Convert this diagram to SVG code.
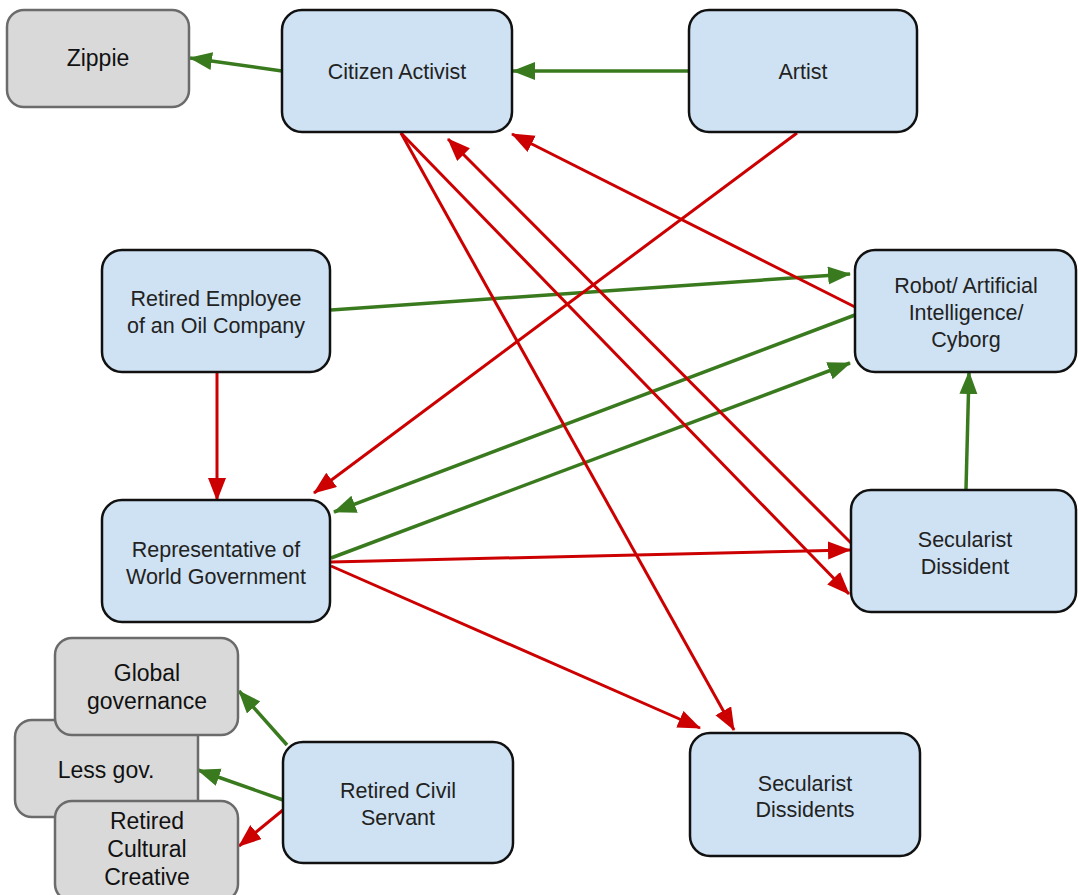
<svg xmlns="http://www.w3.org/2000/svg" width="1078" height="895" viewBox="0 0 1078 895">
<defs>
<style>
.blue{fill:#cfe2f3;stroke:#111;stroke-width:2.5}
.grey{fill:#d9d9d9;stroke:#6b6b6b;stroke-width:2.5}
.t{font-family:"Liberation Sans",Arial,sans-serif;font-size:21.5px;fill:#222;text-anchor:middle}
.tg{font-family:"Liberation Sans",Arial,sans-serif;font-size:23px;fill:#111;text-anchor:middle}
.g{stroke:#3a7a1e;stroke-width:3.5;fill:none;marker-end:url(#ag)}
.r{stroke:#cc0000;stroke-width:3;fill:none;marker-end:url(#ar)}
</style>
<marker id="ag" markerUnits="userSpaceOnUse" markerWidth="25" markerHeight="20" refX="22" refY="9" orient="auto"><path d="M0,0 L23,9 L0,18 z" fill="#3a7a1e"/></marker>
<marker id="ar" markerUnits="userSpaceOnUse" markerWidth="25" markerHeight="20" refX="22" refY="9" orient="auto"><path d="M0,0 L23,9 L0,18 z" fill="#cc0000"/></marker>
</defs>
<rect width="1078" height="895" fill="#fff"/>
<g id="connectors">
<line class="g" x1="282" y1="71" x2="190" y2="58"/>
<line class="g" x1="689" y1="71" x2="513" y2="71"/>
<line class="g" x1="331" y1="310" x2="850" y2="274"/>
<line class="g" x1="855" y1="315" x2="334" y2="512"/>
<line class="g" x1="331" y1="558" x2="850" y2="363"/>
<line class="g" x1="966" y1="489" x2="969" y2="372"/>
<line class="g" x1="287" y1="745" x2="239" y2="691"/>
<line class="g" x1="283" y1="800" x2="198" y2="770"/>
<line class="r" x1="797" y1="133" x2="314" y2="493"/>
<line class="r" x1="855" y1="307" x2="512" y2="134"/>
<line class="r" x1="851" y1="543" x2="448" y2="139"/>
<line class="r" x1="401" y1="133" x2="849" y2="594"/>
<line class="r" x1="401" y1="133" x2="734" y2="730"/>
<line class="r" x1="217" y1="373" x2="217" y2="500"/>
<line class="r" x1="331" y1="562" x2="850" y2="550"/>
<line class="r" x1="331" y1="566" x2="700" y2="728"/>
<line class="r" x1="283" y1="810" x2="239" y2="846"/>
</g>
<g id="zippie"><rect class="grey" x="7" y="10" width="182" height="97" rx="17"/><text class="tg" x="98" y="66">Zippie</text></g>
<g id="citizen-activist"><rect class="blue" x="282" y="10" width="230" height="122" rx="20"/><text class="t" x="397" y="79">Citizen Activist</text></g>
<g id="artist"><rect class="blue" x="689" y="10" width="228" height="122" rx="20"/><text class="t" x="803" y="79">Artist</text></g>
<g id="retired-employee"><rect class="blue" x="102" y="250" width="228" height="122" rx="20"/><text class="t" x="216" y="306">Retired Employee</text><text class="t" x="216" y="333">of an Oil Company</text></g>
<g id="robot"><rect class="blue" x="855" y="250" width="221" height="122" rx="20"/><text class="t" x="966" y="293">Robot/ Artificial</text><text class="t" x="966" y="320">Intelligence/</text><text class="t" x="966" y="347">Cyborg</text></g>
<g id="representative"><rect class="blue" x="102" y="500" width="228" height="122" rx="20"/><text class="t" x="216" y="557">Representative of</text><text class="t" x="216" y="584">World Government</text></g>
<g id="secularist-dissident"><rect class="blue" x="851" y="490" width="225" height="122" rx="20"/><text class="t" x="965" y="547">Secularist</text><text class="t" x="965" y="574">Dissident</text></g>
<g id="secularist-dissidents"><rect class="blue" x="690" y="733" width="230" height="123" rx="20"/><text class="t" x="805" y="791">Secularist</text><text class="t" x="805" y="817">Dissidents</text></g>
<g id="retired-civil-servant"><rect class="blue" x="283" y="742" width="230" height="121" rx="20"/><text class="t" x="398" y="798">Retired Civil</text><text class="t" x="398" y="825">Servant</text></g>
<g id="less-gov"><rect class="grey" x="15" y="720" width="183" height="97" rx="17"/><text class="tg" x="106" y="778">Less gov.</text></g>
<g id="global-governance"><rect class="grey" x="55" y="638" width="183" height="97" rx="17"/><text class="tg" x="147" y="681">Global</text><text class="tg" x="147" y="709">governance</text></g>
<g id="retired-cultural-creative"><rect class="grey" x="55" y="801" width="183" height="100" rx="17"/><text class="tg" x="147" y="829">Retired</text><text class="tg" x="147" y="857">Cultural</text><text class="tg" x="147" y="885">Creative</text></g>
</svg>
